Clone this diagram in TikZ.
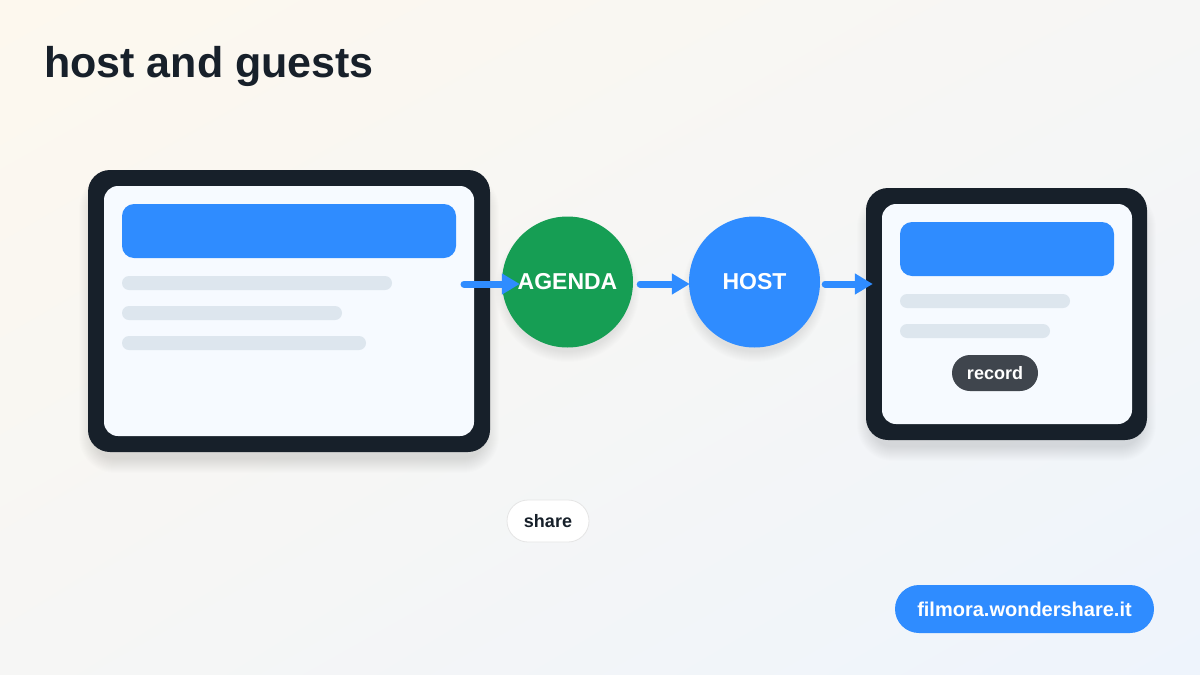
\documentclass[tikz,border=0pt]{standalone}
\usepackage{fontspec}
\setmainfont{Liberation Sans}
\usetikzlibrary{arrows.meta,positioning,shadings}
\definecolor{ink}{RGB}{23,32,42}
\definecolor{paper}{RGB}{246,250,255}
\definecolor{bblue}{RGB}{47,140,255}
\definecolor{ggreen}{RGB}{22,158,84}
\definecolor{lgray}{RGB}{221,230,238}
\definecolor{pill}{RGB}{63,69,77}
\definecolor{bgwarm}{RGB}{253,248,238}
\definecolor{bgmid}{RGB}{246,246,245}
\definecolor{bgcool}{RGB}{238,244,252}
\tikzset{
  devout/.style={fill=ink, rounded corners=22pt, inner sep=0pt},
  devin/.style={fill=paper, rounded corners=14pt, inner sep=0pt},
  bar/.style={fill=bblue, rounded corners=12pt, inner sep=0pt, minimum height=54pt},
  gline/.style={fill=lgray, rounded corners=7pt, inner sep=0pt, minimum height=14pt},
  circ/.style={circle, inner sep=0pt, minimum size=131pt, text=white, font=\bfseries\fontsize{23}{26}\selectfont},
  arr/.style={draw=bblue, line width=7pt, line cap=round, -{Triangle[length=18pt,width=20pt]}},
  shadowbox/.style={fill=black, fill opacity=0.007, inner sep=0pt},
}
\begin{document}
\begin{tikzpicture}[x=1pt,y=-1pt]
\useasboundingbox (0,0) rectangle (1200,675);
\shade[upper left=bgwarm, upper right=bgmid, lower left=bgmid, lower right=bgcool] (0,0) rectangle (1200,675);

% title
\node[anchor=base west, inner sep=0pt, text=ink, font=\bfseries\fontsize{43}{48}\selectfont] (title) at (44,77) {host and guests};

% left device shadow
\foreach \i in {0,...,14}{
  \node[shadowbox, rounded corners={22pt+\i pt}, minimum width={392pt+2*\i pt}, minimum height={272pt+2*\i pt}] at (289,323) {};
}
\node[devout, minimum width=402pt, minimum height=282pt] (left) at (289,311) {};
\node[devin, minimum width=370pt, minimum height=250pt] (leftin) at (289,311) {};
\node[bar, minimum width=334pt] (lbar) at (289,231) {};
\node[gline, minimum width=270pt] (l1) at (257,283) {};
\node[gline, minimum width=220pt] (l2) at (232,313) {};
\node[gline, minimum width=244pt] (l3) at (244,343) {};

% right device shadow
\foreach \i in {0,...,14}{
  \node[shadowbox, rounded corners={22pt+\i pt}, minimum width={271pt+2*\i pt}, minimum height={242pt+2*\i pt}] at (1006.5,326) {};
}
\node[devout, minimum width=281pt, minimum height=252pt] (right) at (1006.5,314) {};
\node[devin, minimum width=250pt, minimum height=220pt] (rightin) at (1007,314) {};
\node[bar, minimum width=214pt] (rbar) at (1007,249) {};
\node[gline, minimum width=170pt] (r1) at (985,301) {};
\node[gline, minimum width=150pt] (r2) at (975,331) {};
\node[fill=pill, rounded corners=18pt, minimum width=86pt, minimum height=36pt, inner sep=0pt, text=white, font=\bfseries\fontsize{18}{20}\selectfont] (record) at (995,373) {record};

% circles shadows
\foreach \i in {0,...,10}{
  \fill[black, fill opacity=0.006] (567.5,290) circle ({62+\i});
  \fill[black, fill opacity=0.006] (754.5,290) circle ({62+\i});
}
\node[circ, fill=ggreen] (agenda) at (567.5,282) {AGENDA};
\node[circ, fill=bblue] (host) at (754.5,282) {HOST};

% arrows
\coordinate (a1s) at (464,284);
\draw[arr] (a1s) -- ([xshift=18pt,yshift=-2pt]agenda.west);
\draw[arr] ([xshift=7pt,yshift=-2pt]agenda.east) -- ([xshift=1pt,yshift=-2pt]host.west);
\draw[arr] ([xshift=5pt,yshift=-2pt]host.east) -- ([xshift=7pt,yshift=30pt]right.west);

% share pill
\node[fill=white, draw=black!10, line width=0.8pt, rounded corners=21pt, minimum width=82pt, minimum height=42pt, inner sep=0pt, text=ink, font=\bfseries\fontsize{18}{20}\selectfont] (share) at (548,521) {share};

% footer pill
\node[fill=bblue, rounded corners=24pt, minimum width=259pt, minimum height=48pt, inner sep=0pt, text=white, font=\bfseries\fontsize{20}{24}\selectfont] (footer) at (1024.5,609) {filmora.wondershare.it};
\end{tikzpicture}
\end{document}
